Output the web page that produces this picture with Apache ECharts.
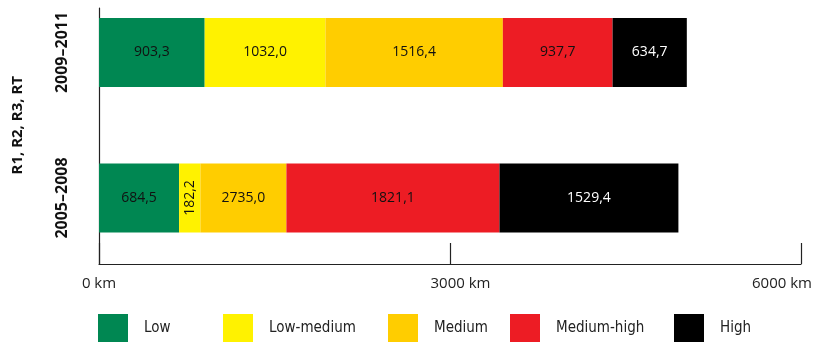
<!DOCTYPE html>
<html><head><meta charset="utf-8">
<script src="https://cdn.jsdelivr.net/npm/echarts@6/dist/echarts.min.js"></script>
<style>html,body{margin:0;padding:0;background:#fff}#c{width:818px;height:343px}</style>
</head><body><div id="c"></div>
<script>
const categories = ['2005–2008', '2009–2011'];
const seriesNames = ['Low', 'Low-medium', 'Medium', 'Medium-high', 'High'];
const lowValues = [684.5, 903.3];
const lowMediumValues = [182.2, 1032.0];
const mediumValues = [735.0, 1516.4];      // bar lengths as drawn
const mediumLabels = [2735.0, 1516.4];     // values as printed on the bars
const mediumHighValues = [1821.1, 937.7];
const highValues = [1529.4, 634.7];
const xTicks = [0, 3000, 6000];
const axisTitle = 'R1, R2, R3, RT';

const colors = ['#008752', '#FFF200', '#FFCD00', '#ED1C24', '#000000'];
const fmt = v => v.toFixed(1).replace('.', ',');
const FONT = "'Open Sans', sans-serif";

function barSeries(i, values, labels, labelColor) {
  return {
    name: seriesNames[i], type: 'bar', stack: 'total', xAxisIndex: 1, yAxisIndex: 1,
    barWidth: 69, itemStyle: { color: colors[i] },
    label: { show: true, position: 'inside', color: labelColor, fontFamily: FONT, fontSize: 14,
      formatter: p => fmt((labels || values)[p.dataIndex]) },
    data: values.map((v, k) => (i === 1 && k === 0) ? { value: v, label: { rotate: 90 } } : v)
  };
}

const legendX = [98, 223, 388, 510, 674];
const chart = echarts.init(document.getElementById('c'));
chart.setOption({
  animation: false,
  grid: [
    { left: 99, right: 17, top: 8, bottom: 79 },
    { left: 99, right: 17, top: 52.5, bottom: 145 }
  ],
  xAxis: [
    { gridIndex: 0, type: 'value', min: xTicks[0], max: xTicks[2], interval: xTicks[1] - xTicks[0],
      axisLine: { show: true, lineStyle: { color: '#222', width: 1.2 } },
      axisTick: { show: true, inside: true, length: 21, lineStyle: { color: '#222', width: 1.2 } },
      splitLine: { show: false },
      axisLabel: { margin: 12, color: '#222', fontFamily: FONT, fontSize: 15,
        formatter: v => v === 0 ? '{a|' + v + ' km}' : (v === 3000 ? '{b|' + v + ' km}' : '{c|' + v + ' km}'),
        rich: {
          a: { fontFamily: FONT, fontSize: 15, color: '#222' },
          b: { fontFamily: FONT, fontSize: 15, color: '#222', padding: [0, 0, 0, 21] },
          c: { fontFamily: FONT, fontSize: 15, color: '#222', padding: [0, 38, 0, 0] }
        } } },
    { gridIndex: 1, type: 'value', min: xTicks[0], max: xTicks[2], show: false }
  ],
  yAxis: [
    { gridIndex: 0, type: 'category', data: categories,
      axisLine: { show: true, lineStyle: { color: '#222', width: 1.2 } },
      axisTick: { show: false }, axisLabel: { show: false } },
    { gridIndex: 1, type: 'category', data: categories, boundaryGap: false,
      axisLine: { show: false }, axisTick: { show: false },
      name: axisTitle, nameLocation: 'middle', nameRotate: 90, nameGap: 74,
      nameTextStyle: { fontFamily: FONT, fontWeight: 'bold', fontSize: 15, color: '#111' },
      axisLabel: { rotate: 90, margin: 29, fontFamily: FONT, fontWeight: 'bold', fontSize: 16, color: '#111' } }
  ],
  legend: seriesNames.map((n, i) => ({
    data: [n], left: legendX[i], top: 314, padding: 0, icon: 'rect',
    itemWidth: 30, itemHeight: 28,
    textStyle: { fontFamily: "'Liberation Sans Narrow', 'DejaVu Sans Condensed', sans-serif", fontSize: 15, color: '#222', padding: [0, 0, 0, 11] }
  })),
  series: [
    barSeries(0, lowValues, null, '#111'),
    barSeries(1, lowMediumValues, null, '#111'),
    barSeries(2, mediumValues, mediumLabels, '#111'),
    barSeries(3, mediumHighValues, null, '#111'),
    barSeries(4, highValues, null, '#fff')
  ]
});
</script></body></html>
